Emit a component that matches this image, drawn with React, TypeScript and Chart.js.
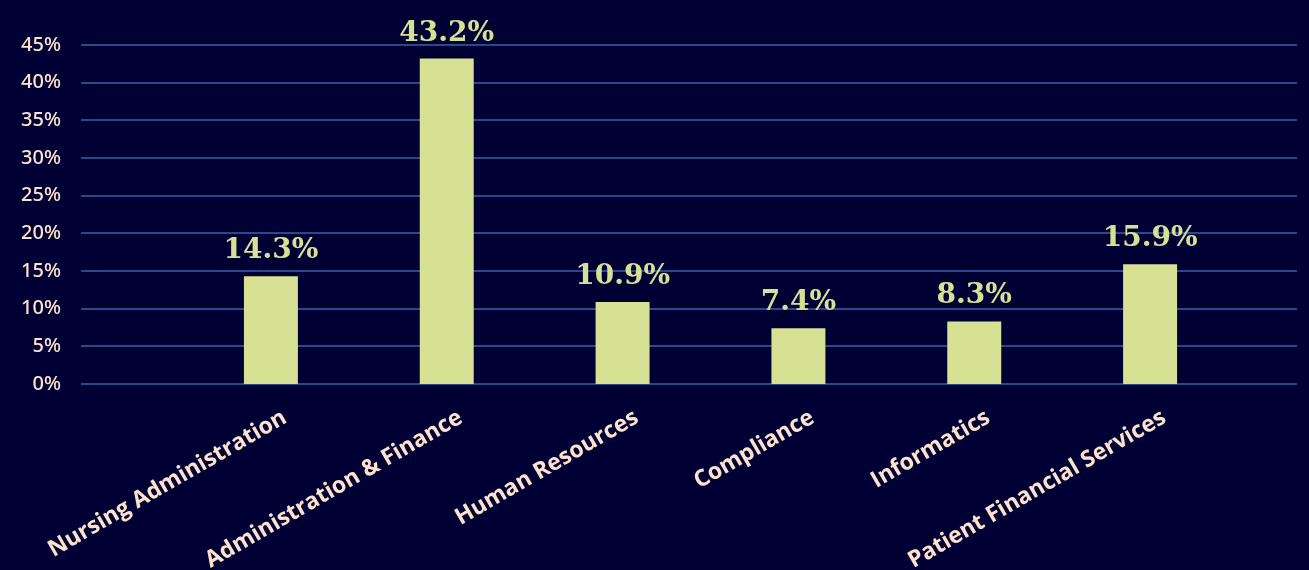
import React, { useEffect, useRef } from "react";
import { Chart, registerables } from "chart.js";

Chart.register(...registerables);

const categories = [
  "Nursing Administration",
  "Administration & Finance",
  "Human Resources",
  "Compliance",
  "Informatics",
  "Patient Financial Services",
];
const shares = [14.3, 43.2, 10.9, 7.4, 8.3, 15.9];
const yTicks = [0, 5, 10, 15, 20, 25, 30, 35, 40, 45];

const BG = "#000035";
const BAR = "#d6e193";
const TEXT = "#fde2cc";
const GRID = "#284a88";

// Horizontal rules run wider than the plot area, from the tick labels to the right edge.
const wideGrid = {
  id: "wideGrid",
  beforeDatasetsDraw(chart: any) {
    const { ctx, scales } = chart;
    const y = scales.y;
    ctx.save();
    ctx.strokeStyle = GRID;
    ctx.lineWidth = 2;
    yTicks.forEach((t) => {
      const py = Math.round(y.getPixelForValue(t));
      ctx.beginPath();
      ctx.moveTo(81, py);
      ctx.lineTo(1297, py);
      ctx.stroke();
    });
    ctx.restore();
  },
};

// Value labels above each bar.
const valueLabels = {
  id: "valueLabels",
  afterDatasetsDraw(chart: any) {
    const { ctx } = chart;
    const meta = chart.getDatasetMeta(0);
    ctx.save();
    ctx.fillStyle = BAR;
    ctx.font = "bold 28px 'DejaVu Serif'";
    ctx.textAlign = "center";
    ctx.textBaseline = "alphabetic";
    meta.data.forEach((bar: any, i: number) => {
      ctx.fillText(shares[i].toFixed(1) + "%", bar.x, bar.y - 18);
    });
    ctx.restore();
  },
};

export default function App() {
  const ref = useRef<HTMLCanvasElement | null>(null);

  useEffect(() => {
    if (!ref.current) return;
    const chart = new Chart(ref.current, {
      type: "bar",
      data: {
        labels: categories,
        datasets: [
          {
            data: shares,
            backgroundColor: BAR,
            borderWidth: 0,
            barPercentage: 0.307,
            categoryPercentage: 1,
          },
        ],
      },
      options: {
        animation: false,
        responsive: true,
        maintainAspectRatio: false,
        layout: { padding: { left: 0, right: 71, top: 45, bottom: 0 } },
        plugins: {
          legend: { display: false },
          tooltip: { enabled: false },
        },
        scales: {
          x: {
            grid: { display: false, drawTicks: false },
            border: { display: false },
            afterFit(scale: any) {
              scale.height = 186;
            },
            ticks: {
              color: TEXT,
              font: { family: "'Open Sans'", size: 23, weight: "700" },
              minRotation: 30,
              maxRotation: 30,
              padding: 20,
              labelOffset: 14,
              autoSkip: false,
            },
          },
          y: {
            min: 0,
            max: 45,
            grid: { display: false, drawTicks: false },
            border: { display: false },
            afterFit(scale: any) {
              scale.width = 183;
              // keep the wide label gap from inflating the vertical padding
              scale.paddingTop = 10;
              scale.paddingBottom = 10;
            },
            ticks: {
              stepSize: 5,
              color: TEXT,
              padding: 122,
              font: { family: "'Noto Sans'", size: 20, weight: "500" },
              callback: (v: any) => v + "%",
            },
          },
        },
      },
      plugins: [wideGrid, valueLabels],
    });
    return () => chart.destroy();
  }, []);

  return (
    <div
      style={{
        position: "fixed",
        left: 0,
        top: 0,
        width: 1309,
        height: 570,
        background: BG,
      }}
    >
      <canvas ref={ref} />
    </div>
  );
}
